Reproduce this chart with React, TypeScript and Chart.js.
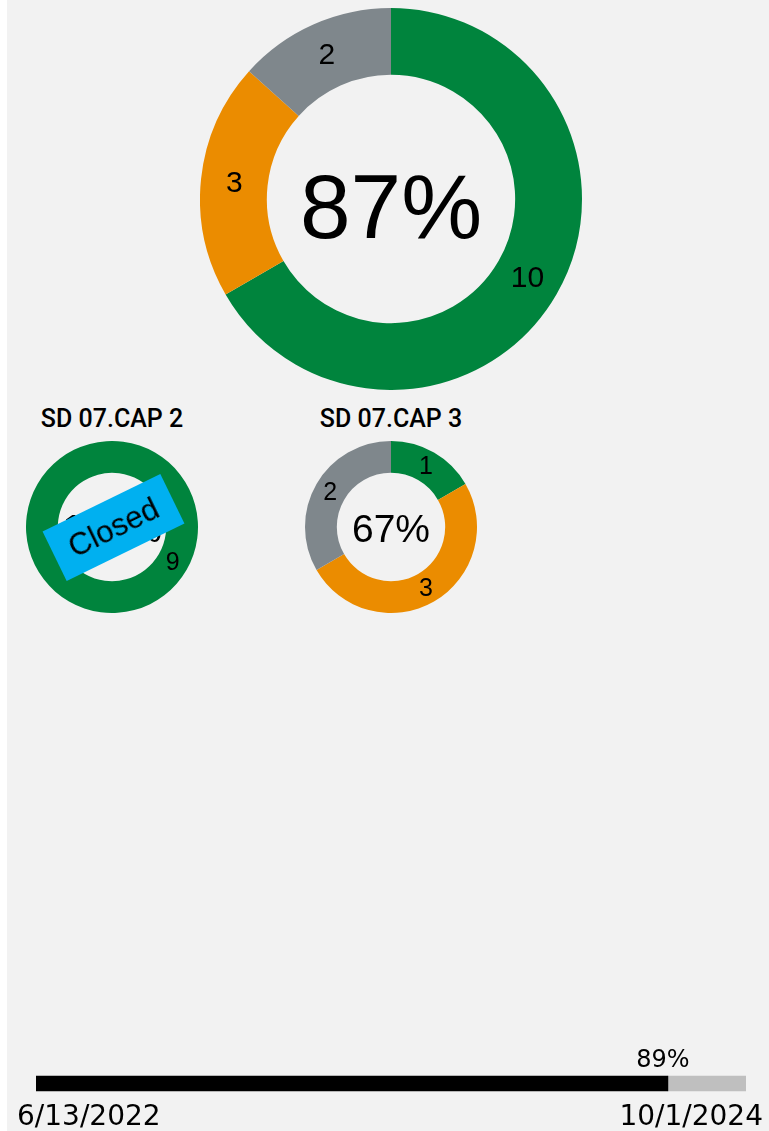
import React, { useEffect, useRef } from "react";
import { Chart, registerables } from "chart.js";

Chart.register(...registerables);

// ---- data ----
const statusLabels = ["Complete", "In progress", "Not started"];
const statusColors = ["#00843D", "#EB8C00", "#7F878C"];
const overallValues = [10, 3, 2];
const cap2Title = "SD 07.CAP 2";
const cap2Values = [9, 0, 0];
const cap2Closed = true;
const cap3Title = "SD 07.CAP 3";
const cap3Values = [1, 3, 2];
const progressPercent = [89];
const progressRemaining = [11];
const startDate = "6/13/2022";
const endDate = "10/1/2024";

const FONT = "'Liberation Sans', Arial, sans-serif";
const BG = "#f2f2f2";

function pctText(values: number[]) {
  const total = values.reduce((a, b) => a + b, 0);
  const done = values[0] + values[1];
  return Math.round((done / total) * 100) + "%";
}

const donutPlugin = {
  id: "donutText",
  afterDatasetsDraw(chart: any, _args: any, opts: any) {
    const ctx = chart.ctx;
    const meta = chart.getDatasetMeta(0);
    const data = chart.data.datasets[0].data as number[];
    ctx.save();
    ctx.fillStyle = "#000";
    ctx.textAlign = "center";
    ctx.textBaseline = "middle";
    ctx.font = `${opts.labelSize}px ${FONT}`;
    meta.data.forEach((arc: any, i: number) => {
      if (!data[i]) return;
      const p = arc.getProps(["startAngle", "endAngle", "innerRadius", "outerRadius", "x", "y"], true);
      const a = (p.startAngle + p.endAngle) / 2;
      const r = (p.innerRadius + p.outerRadius) / 2;
      ctx.fillText(String(data[i]), p.x + Math.cos(a) * r, p.y + Math.sin(a) * r + 1);
    });
    const first = meta.data[0].getProps(["x", "y"], true);
    ctx.font = `${opts.centerSize}px ${FONT}`;
    ctx.textBaseline = "alphabetic";
    ctx.fillText(pctText(data), first.x, first.y + opts.centerSize * 0.38 + (opts.centerOffset || 0));
    ctx.restore();
  },
};

function Donut(props: {
  values: number[];
  size: number;
  cutout: string;
  labelSize: number;
  centerSize: number;
  centerOffset?: number;
  rotation?: number;
  style: React.CSSProperties;
}) {
  const ref = useRef<HTMLCanvasElement | null>(null);
  useEffect(() => {
    const chart = new Chart(ref.current as HTMLCanvasElement, {
      type: "doughnut",
      data: {
        labels: statusLabels,
        datasets: [
          {
            data: props.values,
            backgroundColor: statusColors,
            borderWidth: 0,
          },
        ],
      },
      options: {
        animation: false,
        responsive: false,
        cutout: props.cutout,
        rotation: props.rotation || 0,
        layout: { padding: 0 },
        plugins: {
          legend: { display: false },
          tooltip: { enabled: false },
          donutText: {
            labelSize: props.labelSize,
            centerSize: props.centerSize,
            centerOffset: props.centerOffset || 0,
          },
        } as any,
      },
      plugins: [donutPlugin],
    });
    return () => chart.destroy();
  }, []);
  return (
    <canvas
      ref={ref}
      width={props.size}
      height={props.size}
      style={{ position: "absolute", width: props.size, height: props.size, ...props.style }}
    />
  );
}

const barTextPlugin = {
  id: "barText",
  afterDatasetsDraw(chart: any) {
    const ctx = chart.ctx;
    const bar = chart.getDatasetMeta(0).data[0];
    const p = bar.getProps(["x", "y", "height"], true);
    ctx.save();
    ctx.fillStyle = "#000";
    ctx.font = `24px 'DejaVu Sans', sans-serif`;
    ctx.textAlign = "center";
    ctx.textBaseline = "alphabetic";
    ctx.fillText(progressPercent[0] + "%", p.x - 5, p.y - p.height / 2 - 9);
    ctx.font = `28px 'DejaVu Sans', sans-serif`;
    ctx.textAlign = "left";
    ctx.fillText(startDate, 10, chart.height - 6);
    ctx.textAlign = "right";
    ctx.fillText(endDate, chart.width - 6, chart.height - 6);
    ctx.restore();
  },
};

function ProgressBar() {
  const ref = useRef<HTMLCanvasElement | null>(null);
  useEffect(() => {
    const chart = new Chart(ref.current as HTMLCanvasElement, {
      type: "bar",
      data: {
        labels: ["Progress"],
        datasets: [
          { data: progressPercent, backgroundColor: "#000000", barThickness: 15, borderWidth: 0 },
          { data: progressRemaining, backgroundColor: "#BFBFBF", barThickness: 15, borderWidth: 0 },
        ],
      },
      options: {
        animation: false,
        responsive: false,
        indexAxis: "y",
        layout: { padding: { left: 29, right: 23, top: 30, bottom: 34 } },
        scales: {
          x: { display: false, stacked: true, min: 0, max: 100 },
          y: { display: false, stacked: true },
        },
        plugins: { legend: { display: false }, tooltip: { enabled: false } },
      },
      plugins: [barTextPlugin],
    });
    return () => chart.destroy();
  }, []);
  return (
    <canvas
      ref={ref}
      width={762}
      height={91}
      style={{ position: "absolute", left: 0, top: 1040, width: 762, height: 91 }}
    />
  );
}

export default function App() {
  const titleStyle: React.CSSProperties = {
    position: "absolute",
    width: 200,
    textAlign: "center",
    fontFamily: "Roboto, 'Liberation Sans', sans-serif",
    fontWeight: 500,
    fontSize: 25,
    lineHeight: "28px",
    color: "#000",
    top: 405,
  };
  return (
    <div
      style={{
        position: "absolute",
        left: 7,
        top: 0,
        width: 762,
        height: 1131,
        background: BG,
        overflow: "hidden",
      }}
    >
      <Donut
        values={overallValues}
        size={382}
        cutout="65%"
        labelSize={30}
        centerSize={91}
        centerOffset={4}
        style={{ left: 193, top: 8 }}
      />
      <div style={{ ...titleStyle, left: 105 - 100 }}>{cap2Title}</div>
      <Donut
        values={cap2Values}
        size={172}
        cutout="63%"
        labelSize={25}
        centerSize={39}
        rotation={-60}
        style={{ left: 19, top: 441 }}
      />
      {cap2Closed && (
        <div
          style={{
            position: "absolute",
            left: 106 - 65.5,
            top: 527 - 27.5,
            width: 131,
            height: 55,
            background: "#00B0F0",
            transform: "rotate(-26deg)",
            display: "flex",
            alignItems: "center",
            justifyContent: "center",
            fontFamily: FONT,
            fontSize: 31,
            color: "#000",
          }}
        >
          Closed
        </div>
      )}
      <div style={{ ...titleStyle, left: 384 - 100 }}>{cap3Title}</div>
      <Donut
        values={cap3Values}
        size={172}
        cutout="63%"
        labelSize={25}
        centerSize={39}
        style={{ left: 298, top: 441 }}
      />
      <ProgressBar />
    </div>
  );
}
